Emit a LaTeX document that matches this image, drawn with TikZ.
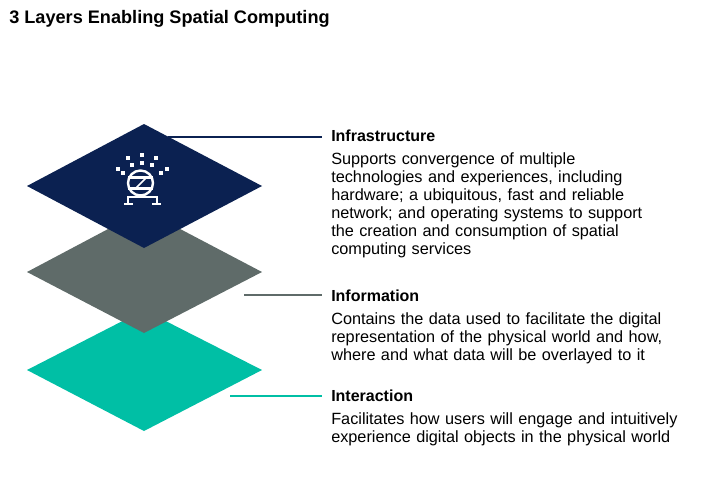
\documentclass[tikz,border=0pt]{standalone}
\usepackage{fontspec}
\setmainfont{Liberation Sans}
\begin{document}
\begin{tikzpicture}[x=0.75pt,y=-0.75pt,
 title/.style={anchor=west,font=\bfseries\fontsize{12}{14}\selectfont,inner sep=0},
 body/.style={anchor=north west,align=left,font=\fontsize{12.2}{13.5}\selectfont,inner sep=0,text width=360pt},
 lead/.style={line width=1.2pt}]
\definecolor{navy}{HTML}{0B2151}
\definecolor{slate}{HTML}{5F6B69}
\definecolor{teal}{HTML}{00BFA5}
\useasboundingbox (0,0) rectangle (709,503);
\node[anchor=west,inner sep=0,font=\bfseries\fontsize{13.6}{15}\selectfont] (h) at (9,19) {3 Layers Enabling Spatial Computing};
\fill[teal] (27,370) -- (144,310) -- (262,370) -- (144,431) -- cycle;
\fill[slate] (27,272) -- (144,210) -- (262,272) -- (144,333) -- cycle;
\fill[navy] (27,186) -- (144,124) -- (262,186) -- (144,248) -- cycle;
% icon
\begin{scope}[white]
\foreach \p in {(142,155),(142,163),(128,158),(156,158),(132,165),(152,165),(118,169),(167,169),(123,173),(161,173)}
  \fill \p +(-1.6,-1.6) rectangle +(1.6,1.6);
\draw[line width=1.8pt] (140.5,183) circle (12.5);
\draw[line width=1.8pt] (128,177.5) -- (153,177.5);
\draw[line width=1.8pt] (128,188.5) -- (153,188.5);
\draw[line width=1.3pt] (146,178) -- (136,188);
\draw[line width=1.8pt] (128,204) -- (128,197) -- (157,197) -- (157,204);
\draw[line width=1.8pt] (124,204) -- (133,204); \draw[line width=1.8pt] (152,204) -- (161,204);
\end{scope}
\coordinate (c1) at (168,137); \coordinate (c2) at (244,295); \coordinate (c3) at (230,396);
\node[title] (t1) at (331,136) {Infrastructure};
\node[title] (t2) at (331,296) {Information};
\node[title] (t3) at (331,396) {Interaction};
\draw[lead,navy] (c1) -- (322,137);
\draw[lead,slate] (c2) -- (322,295);
\draw[lead,teal] (c3) -- (322,396);
\node[body] (b1) at (331,152) {Supports convergence of multiple\\technologies and experiences, including\\hardware; a ubiquitous, fast and reliable\\network; and operating systems to support\\the creation and consumption of spatial\\computing services};
\node[body] (b2) at (331,312) {Contains the data used to facilitate the digital\\representation of the physical world and how,\\where and what data will be overlayed to it};
\node[body] (b3) at (331,412) {Facilitates how users will engage and intuitively\\experience digital objects in the physical world};
\end{tikzpicture}
\end{document}
